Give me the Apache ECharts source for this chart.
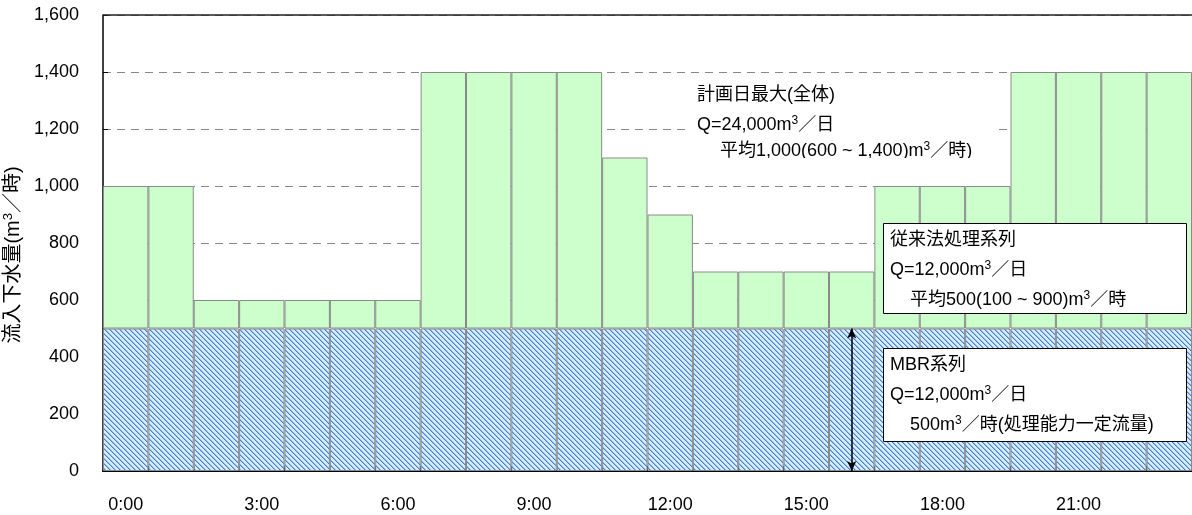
<!DOCTYPE html>
<html>
<head>
<meta charset="utf-8">
<script src="https://cdn.jsdelivr.net/npm/echarts@6/dist/echarts.min.js"></script>
<style>
  html, body { margin: 0; padding: 0; background: #fff; }
  #chart { width: 1192px; height: 515px; }
</style>
</head>
<body>
<div id="chart"></div>
<script>
// Hourly inflow (m3/h) for each hour of the design day
const hours = ['0:00', '1:00', '2:00', '3:00', '4:00', '5:00', '6:00', '7:00',
  '8:00', '9:00', '10:00', '11:00', '12:00', '13:00', '14:00', '15:00',
  '16:00', '17:00', '18:00', '19:00', '20:00', '21:00', '22:00', '23:00'];
const totalFlow = [1000, 1000, 600, 600, 600, 600, 600, 1400,
  1400, 1400, 1400, 1100, 900, 700, 700, 700,
  700, 1000, 1000, 1000, 1400, 1400, 1400, 1400];
// MBR line takes a constant share every hour
const mbrFlow = [500, 500, 500, 500, 500, 500, 500, 500,
  500, 500, 500, 500, 500, 500, 500, 500,
  500, 500, 500, 500, 500, 500, 500, 500];
// Conventional line takes the remainder
const conventionalFlow = totalFlow.map((v, i) => v - mbrFlow[i]);
const yTicks = { min: 0, max: 1600, interval: 200 };

const FONT = "'Liberation Sans', Arial, 'Noto Sans CJK JP', sans-serif";
const FS = 18;

// Diagonal hatch tile for the MBR portion
function hatchTile() {
  const s = 5;
  const c = document.createElement('canvas');
  c.width = s; c.height = s;
  const ctx = c.getContext('2d');
  const img = ctx.createImageData(s, s);
  for (let y = 0; y < s; y++) {
    for (let x = 0; x < s; x++) {
      const k = ((x - y) % s + s) % s;
      let col;
      if (k === 0) col = [92, 116, 206];
      else if (k === 1) col = [150, 184, 238];
      else col = [204, 242, 255];
      const p = (y * s + x) * 4;
      img.data[p] = col[0]; img.data[p + 1] = col[1]; img.data[p + 2] = col[2]; img.data[p + 3] = 255;
    }
  }
  ctx.putImageData(img, 0, 0);
  return c;
}

function richSet(size) {
  return {
    s: { fontSize: Math.round(size * 0.66), lineHeight: Math.round(size * 0.66), verticalAlign: 'top', fontFamily: FONT, fill: '#000', color: '#000' },
    n: { fontSize: size, lineHeight: size + 2, fontFamily: FONT, fill: '#000', color: '#000' }
  };
}

function noteText(x, y, parts) {
  return {
    type: 'text', x: x, y: y, z: 110,
    style: {
      text: parts, rich: richSet(FS), fill: '#000',
      font: FS + 'px ' + FONT, textVerticalAlign: 'middle', textAlign: 'left'
    }
  };
}

const chart = echarts.init(document.getElementById('chart'));

chart.setOption({
  animation: false,
  backgroundColor: '#fff',
  grid: { left: 103, right: 0, top: 15, bottom: 44, containLabel: false, outerBoundsMode: 'none' },
  xAxis: {
    type: 'category',
    data: hours,
    boundaryGap: true,
    axisLine: { lineStyle: { color: '#000', width: 2 } },
    axisTick: { show: true, inside: true, length: 5, interval: 0, lineStyle: { color: '#000' } },
    axisLabel: { interval: 2, margin: 25, fontSize: FS, color: '#000', fontFamily: FONT },
    splitLine: { show: false }
  },
  yAxis: {
    type: 'value',
    min: yTicks.min, max: yTicks.max, interval: yTicks.interval,
    name: '{n|流入下水量(m}{s|3}{n|／時)}',
    nameLocation: 'middle',
    nameRotate: 90,
    nameGap: 68,
    nameTextStyle: { rich: richSet(20), fontSize: 20, color: '#000', padding: [0, 24, 0, 0] },
    axisLine: { show: true, lineStyle: { color: '#000', width: 1.5 } },
    axisTick: { show: true, inside: true, length: 5, lineStyle: { color: '#000' } },
    axisLabel: {
      margin: 24, fontSize: FS, color: '#000', fontFamily: FONT,
      formatter: v => v.toLocaleString('en-US')
    },
    splitLine: { show: true, lineStyle: { color: '#888', width: 1, type: [8, 6] } }
  },
  series: [
    {
      name: 'MBR系列',
      type: 'bar',
      stack: 'flow',
      data: mbrFlow,
      barCategoryGap: '0%',
      itemStyle: {
        color: { image: hatchTile(), repeat: 'repeat' },
        borderColor: '#8a8a8a', borderWidth: 1
      },
      markLine: {
        silent: true,
        symbol: ['arrow', 'arrow'],
        symbolSize: [7, 10],
        label: { show: false },
        lineStyle: { color: '#000', width: 1.5, type: 'solid' },
        data: [[{ coord: ['16:00', 0] }, { coord: ['16:00', 500] }]]
      }
    },
    {
      name: '従来法処理系列',
      type: 'bar',
      stack: 'flow',
      data: conventionalFlow,
      barCategoryGap: '0%',
      itemStyle: { color: '#ccffcc', borderColor: '#8a8a8a', borderWidth: 1 },
      markLine: {
        silent: true,
        symbol: ['none', 'none'],
        label: { show: false },
        lineStyle: { color: '#222', width: 1.5, type: 'solid' },
        data: [{ yAxis: 1600 }]
      }
    }
  ],
  graphic: [
    // Plan-day maximum note (no frame); box edge trims its last line
    { type: 'rect', z: 100, shape: { x: 688, y: 75, width: 308, height: 95 }, style: { fill: '#fff' } },
    noteText(697, 95, '{n|計画日最大(全体)}'),
    noteText(697, 125, '{n|Q=24,000m}{s|3}{n|／日}'),
    noteText(720, 151, '{n|平均1,000(600 ~ 1,400)m}{s|3}{n|／時)}'),
    { type: 'rect', z: 120, shape: { x: 688, y: 158, width: 308, height: 12 }, style: { fill: '#fff' } },

    // Conventional line note
    { type: 'rect', z: 100, shape: { x: 883.5, y: 223.5, width: 303, height: 90 }, style: { fill: '#fff', stroke: '#000', lineWidth: 1 } },
    noteText(890, 240, '{n|従来法処理系列}'),
    noteText(890, 270, '{n|Q=12,000m}{s|3}{n|／日}'),
    noteText(910, 300, '{n|平均500(100 ~ 900)m}{s|3}{n|／時}'),

    // MBR line note
    { type: 'rect', z: 100, shape: { x: 883.5, y: 348.5, width: 303, height: 93 }, style: { fill: '#fff', stroke: '#000', lineWidth: 1 } },
    noteText(890, 365, '{n|MBR系列}'),
    noteText(890, 395, '{n|Q=12,000m}{s|3}{n|／日}'),
    noteText(910, 425, '{n|500m}{s|3}{n|／時(処理能力一定流量)}')
  ]
});
</script>
</body>
</html>
